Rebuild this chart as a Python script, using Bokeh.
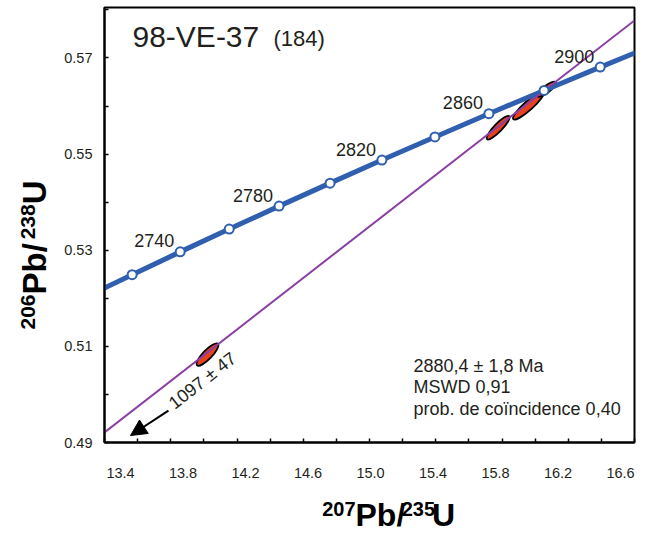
import math
from bokeh.plotting import figure
from bokeh.layouts import row, column
from bokeh.models import (FixedTicker, PrintfTickFormatter, Label, Arrow, NormalHead, Range1d,
                          LinearAxis)
from bokeh.core.properties import value
from bokeh.embed import file_html
from bokeh.resources import INLINE

# ---------------- data ----------------
# Concordia curve (207Pb/235U, 206Pb/238U) at ages 2700..2920 Ma
conc_age = [2700, 2720, 2740, 2760, 2780, 2800, 2820, 2840, 2860, 2880, 2900, 2920]
conc_x = [13.283, 13.567, 13.857, 14.153, 14.454, 14.762, 15.075, 15.395, 15.721, 16.054, 16.393, 16.739]
conc_y = [0.52019, 0.52492, 0.52966, 0.53441, 0.53918, 0.54396, 0.54876, 0.55357, 0.55840, 0.56324, 0.56810, 0.57297]

# age markers (every 20 Ma) shown as open circles
marker_x = [13.567, 13.857, 14.153, 14.454, 14.762, 15.075, 15.395, 15.721, 16.054, 16.393]
marker_y = [0.52492, 0.52966, 0.53441, 0.53918, 0.54396, 0.54876, 0.55357, 0.55840, 0.56324, 0.56810]

# labelled ages
label_age = ["2740", "2780", "2820", "2860", "2900"]
label_x = [13.857, 14.454, 15.075, 15.721, 16.393]
label_y = [0.52966, 0.53918, 0.54876, 0.55840, 0.56810]

# discordia line (ends at the frame edges)
disc_x = [13.4, 16.6]
disc_y = [0.4921, 0.5778]

# analysis error ellipses: centres
ell_x = [14.022, 15.777, 15.960, 16.069]
ell_y = [0.5083, 0.5555, 0.5601, 0.5635]

# axis ticks
x_ticks = [13.4, 13.8, 14.2, 14.6, 15.0, 15.4, 15.8, 16.2, 16.6]
x_minor = [13.6, 14.0, 14.4, 14.8, 15.2, 15.6, 16.0, 16.4]
y_ticks = [0.49, 0.51, 0.53, 0.55, 0.57]
y_minor = [0.50, 0.52, 0.54, 0.56, 0.58]

# lower-intercept arrow and its label
arrow_x = [13.786, 13.557]
arrow_y = [0.49664, 0.49145]
lower_text = "1097 ± 47"
lower_x = [13.992]
lower_y = [0.50287]

title_main = "98-VE-37"
title_n = "(184)"
result_lines = ["2880,4 ± 1,8 Ma", "MSWD 0,91", "prob. de coïncidence 0,40"]
# axis titles: (superscript mass, element, superscript mass, element)
x_title = ["207", "Pb/", "235", "U"]
y_title = ["206", "Pb/", "238", "U"]

# ---------------- styles ----------------
BLUE = "#2f5fae"
PURPLE = "#8a3fa6"
RED = "#e8411e"
TXT = "#231f20"
FONT = "Liberation Sans"

ell_len = [30, 32, 41, 23]
ell_wid = [9, 8, 9, 7]
ell_ang = [math.radians(a) for a in [46, 46, 42, 38]]

LW = 56          # width of the left strip holding the y title
MW, MH = 606, 490
BH = 43
TH = MH + BH

p = figure(width=MW, height=MH,
           x_range=Range1d(13.4, 16.6), y_range=Range1d(0.49, 0.5805),
           output_backend="svg", toolbar_location=None,
           min_border_left=48, min_border_right=28, min_border_top=7, min_border_bottom=48)
p.grid.visible = False
p.outline_line_color = "black"
p.outline_line_width = 2
p.background_fill_color = "white"
p.border_fill_color = "white"

for ax in (p.xaxis[0], p.yaxis[0]):
    ax.axis_line_width = 2
    ax.axis_line_color = "black"
    ax.major_tick_in = 4
    ax.major_tick_out = 0
    ax.minor_tick_in = 4
    ax.minor_tick_out = 0
    ax.major_tick_line_width = 1.5
    ax.minor_tick_line_width = 1.5
    ax.major_label_text_font = FONT
    ax.major_label_text_font_size = "14.5px"
    ax.major_label_text_color = TXT

p.xaxis[0].ticker = FixedTicker(ticks=x_ticks, minor_ticks=x_minor)
p.yaxis[0].ticker = FixedTicker(ticks=y_ticks, minor_ticks=y_minor)
p.yaxis[0].formatter = PrintfTickFormatter(format="%.2f")
p.yaxis[0].major_label_standoff = 12
# the bottom axis carries only the tick marks; its numbers are spread evenly
# across the frame as in the reference, via a label-only axis
p.xaxis[0].major_label_text_color = None
p.xaxis[0].major_label_text_font_size = "1px"
p.xaxis[0].major_label_standoff = 0
p.extra_x_ranges = {"labels": Range1d(13.2976, 16.6896)}
lab_axis = LinearAxis(x_range_name="labels", ticker=FixedTicker(ticks=x_ticks),
                      formatter=PrintfTickFormatter(format="%.1f"),
                      axis_line_color=None, major_tick_line_color=None,
                      minor_tick_line_color=None, major_label_standoff=19,
                      major_label_text_font=FONT, major_label_text_font_size="14.5px",
                      major_label_text_color=TXT)
p.add_layout(lab_axis, "below")

# ellipses
p.ellipse(x=ell_x, y=ell_y, width=ell_len, height=ell_wid, angle=ell_ang,
          width_units="screen", height_units="screen",
          fill_color=RED, line_color="black", line_width=1.8)

# concordia
p.line(conc_x, conc_y, line_color=BLUE, line_width=5)
# discordia
p.line(disc_x, disc_y, line_color=PURPLE, line_width=2)
# age markers
p.scatter(marker_x, marker_y, marker="circle", size=9, fill_color="white",
          line_color=BLUE, line_width=2)

# age labels
p.text(x=label_x, y=label_y, text=label_age, x_offset=-6, y_offset=-11,
       text_align="right", text_baseline="middle",
       text_font=value(FONT), text_font_size="18px", text_color=TXT)

# lower intercept arrow + label
p.add_layout(Arrow(end=NormalHead(size=16, fill_color="black", line_color="black"),
                   x_start=arrow_x[0], y_start=arrow_y[0], x_end=arrow_x[1], y_end=arrow_y[1],
                   line_width=2, line_color="black"))
p.text(x=lower_x, y=lower_y, text=[lower_text], angle=math.radians(38),
       text_align="center", text_baseline="middle",
       text_font=value(FONT), text_font_size="18px", text_color=TXT)

# annotations anchored at the frame's lower-left corner, offsets in px (up = +)
X0, Y0 = 13.4, 0.49

def lab(text, dx, baseline_up, size):
    p.add_layout(Label(x=X0, y=Y0, x_offset=dx, y_offset=baseline_up + 0.35 * size, text=text,
                       text_font=FONT, text_font_size=f"{size}px",
                       text_color=TXT, text_align="left", text_baseline="middle"))

lab(title_main, 28, 396, 30)
lab(title_n, 169, 396, 22)
for txt, up in zip(result_lines, [70, 49, 27]):
    lab(txt, 309, up, 18)

# ---------------- axis titles in their own strips ----------------
def strip(w, h):
    f = figure(width=w, height=h, x_range=Range1d(0, w), y_range=Range1d(0, h),
               output_backend="svg", toolbar_location=None, min_border=0,
               x_axis_type=None, y_axis_type=None)
    f.grid.visible = False
    f.outline_line_color = None
    f.background_fill_color = "white"
    f.border_fill_color = "white"
    return f


def piece(fig, txt, along, base, size, align, vertical):
    """along: position along the writing direction; base: baseline position (px)."""
    mid = base + 0.35 * size
    kw = dict(text=[txt], text_align=align, text_baseline="middle", text_font=value(FONT),
              text_font_style="bold", text_font_size=f"{size}px", text_color="black")
    if vertical:
        fig.text(x=[-mid], y=[along], angle=math.pi / 2, **kw)
    else:
        fig.text(x=[along], y=[mid], **kw)


def rich(fig, parts, start_el, end_el, base, f_main, f_sup, raise_, vertical=False):
    """parts = [sup1, el1, sup2, el2]; el1 begins at start_el, el2 ends at end_el."""
    sup1, el1, sup2, el2 = parts
    w_el2 = 0.722 * f_main
    piece(fig, sup1, start_el, base + raise_, f_sup, "right", vertical)
    piece(fig, el1, start_el, base, f_main, "left", vertical)
    piece(fig, sup2, end_el - w_el2, base + raise_, f_sup, "right", vertical)
    piece(fig, el2, end_el, base, f_main, "right", vertical)


left = strip(LW, TH)
# vertical: baseline at x=46 px -> base measured as -x (text top points to -x)
rich(left, y_title, TH - 294, TH - 180, -46, 33, 21, 11, vertical=True)

bottom = strip(MW, BH)
rich(bottom, x_title, 343 - LW, 457 - LW, TH - 526, 32, 20, 11)

layout = row(left, column(p, bottom, spacing=0), spacing=0)

open("out.html", "w").write(file_html(layout, INLINE))
